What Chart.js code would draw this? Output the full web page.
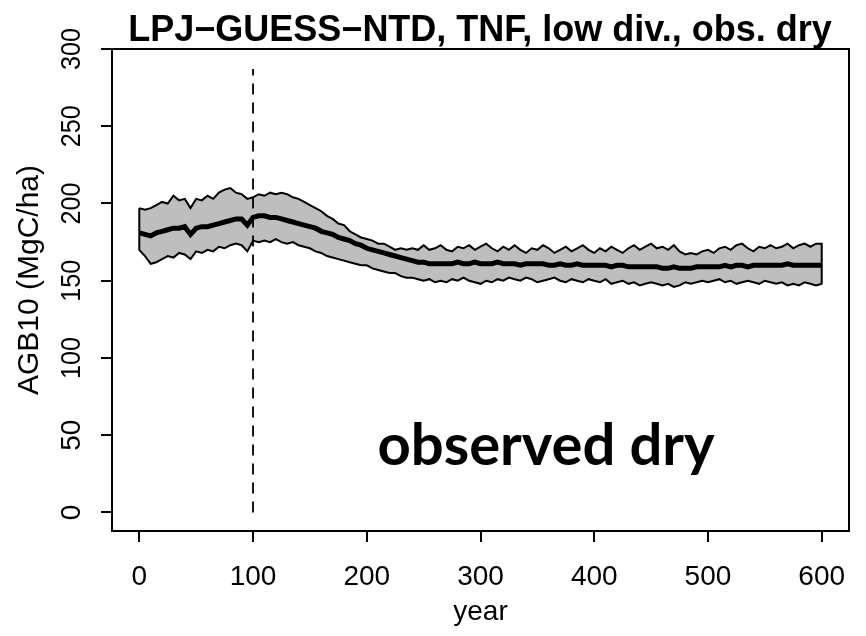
<!DOCTYPE html>
<html lang="en">
<head>
  <meta charset="UTF-8">
  <title>AGB10 - observed dry</title>
  <style>
    body { margin: 0; background: #fff; }
    #wrap { width: 866px; height: 636px; }
  </style>
</head>
<body>
  <div id="wrap"><canvas id="chart" width="866" height="636"></canvas></div>

  <script src="https://cdn.jsdelivr.net/npm/chart.js"></script>
  <script>
    // one value every 5 years, year 0 .. 600
    const yearStep = 5;

    const upper = [
      197, 196, 197, 199, 201, 200, 205, 202, 203, 197,
      203, 202, 205, 203, 207, 209, 210, 207, 206, 203,
      204, 206, 205, 207, 206, 207, 206, 204, 203, 201,
      199, 197, 195, 192, 190, 187, 186, 182, 180, 178,
      177, 176, 174, 174, 172, 170, 171, 170, 171, 170,
      173, 170, 171, 173, 170, 169, 172, 171, 173, 170,
      172, 174, 171, 169, 172, 170, 173, 170, 168, 171,
      170, 173, 171, 168, 170, 172, 169, 171, 173, 170,
      168, 171, 169, 172, 170, 168, 171, 173, 170, 172,
      174, 171, 172, 170, 173, 169, 167, 168, 167, 169,
      170, 168, 171, 172, 170, 173, 174, 171, 169, 172,
      171, 173, 171, 172, 174, 171, 173, 174, 172, 174,
      174
    ];

    const lower = [
      170, 166, 161, 162, 164, 166, 165, 168, 167, 164,
      169, 168, 170, 169, 172, 171, 173, 174, 173, 169,
      176, 175, 176, 175, 177, 175, 174, 175, 173, 172,
      171, 169, 168, 166, 165, 164, 163, 162, 161, 160,
      160, 158, 157, 156, 155, 155, 153, 152, 152, 151,
      150, 151, 149, 150, 149, 151, 150, 152, 150, 149,
      148, 150, 149, 151, 150, 152, 151, 150, 152, 151,
      149, 150, 151, 152, 150, 149, 151, 150, 149, 151,
      150, 149, 151, 148, 149, 150, 148, 149, 147, 148,
      149, 148, 147, 148, 146, 147, 149, 148, 149, 150,
      149, 150, 151, 149, 150, 148, 149, 150, 149, 148,
      150, 149, 148, 149, 147, 148, 147, 149, 148, 147,
      148
    ];

    const mean = [
      181, 180, 179, 181, 182, 183, 184, 184, 185, 180,
      184, 185, 185, 186, 187, 188, 189, 190, 190, 186,
      191, 192, 192, 191, 191, 190, 189, 188, 187, 186,
      185, 184, 182, 181, 180, 178, 177, 176, 174, 173,
      171, 170, 169, 168, 167, 166, 165, 164, 163, 162,
      162, 161, 161, 161, 161, 161, 162, 161, 161, 162,
      161, 161, 161, 162, 161, 161, 161, 160, 161, 161,
      161, 161, 160, 160, 161, 160, 160, 161, 160, 160,
      160, 160, 160, 159, 160, 160, 159, 159, 159, 159,
      159, 159, 158, 158, 159, 158, 158, 158, 159, 159,
      159, 159, 159, 160, 159, 160, 160, 159, 160, 160,
      160, 160, 160, 160, 161, 160, 160, 160, 160, 160,
      160
    ];

    const years = mean.map((_, i) => i * yearStep);

    const xTicks = [0, 100, 200, 300, 400, 500, 600];
    const yTicks = [0, 50, 100, 150, 200, 250, 300];

    // dashed marker at year 100
    const markerYear = 100;
    const markerRange = [0, 287];

    const titleText = "LPJ\u2212GUESS\u2212NTD, TNF, low div., obs. dry";
    const xTitle = "year";
    const yTitle = "AGB10 (MgC/ha)";
    const noteText = "observed dry";

    const toPoints = arr => arr.map((v, i) => ({ x: years[i], y: v }));

    // closed outline: upper left->right, then lower right->left (like R's polygon)
    const bandPoints = toPoints(upper)
      .concat(toPoints(lower).reverse())
      .concat([{ x: years[0], y: upper[0] }]);

    // box, tick marks and labels drawn R-style
    const rAxes = {
      id: "rAxes",
      afterDraw(chart) {
        const { ctx, chartArea: a, scales: { x, y } } = chart;
        ctx.save();
        ctx.strokeStyle = "#000";
        ctx.lineWidth = 2;
        ctx.strokeRect(a.left, a.top, a.right - a.left, a.bottom - a.top);

        ctx.beginPath();
        xTicks.forEach(v => {
          const px = Math.round(x.getPixelForValue(v));
          ctx.moveTo(px, a.bottom);
          ctx.lineTo(px, a.bottom + 11);
        });
        yTicks.forEach(v => {
          const py = Math.round(y.getPixelForValue(v));
          ctx.moveTo(a.left, py);
          ctx.lineTo(a.left - 11, py);
        });
        ctx.stroke();

        ctx.fillStyle = "#000";
        ctx.textAlign = "center";
        ctx.textBaseline = "alphabetic";
        ctx.font = "28px 'Liberation Sans', Arial, sans-serif";
        xTicks.forEach(v => ctx.fillText(String(v), x.getPixelForValue(v), 585));
        ctx.fillText(xTitle, (a.left + a.right) / 2, 620);

        yTicks.forEach(v => {
          ctx.save();
          ctx.translate(80, y.getPixelForValue(v));
          ctx.rotate(-Math.PI / 2);
          ctx.fillText(String(v), 0, 0, 42);
          ctx.restore();
        });

        ctx.save();
        ctx.font = "30px 'Liberation Sans', Arial, sans-serif";
        ctx.translate(38, 280);
        ctx.rotate(-Math.PI / 2);
        ctx.fillText(yTitle, 0, 0);
        ctx.restore();

        ctx.font = "bold 36px 'Liberation Sans', Arial, sans-serif";
        ctx.fillText(titleText, 480, 41, 706);

        ctx.font = "bold 58px Lato, 'Open Sans', sans-serif";
        ctx.fillText(noteText, 546, 465, 343);
        ctx.restore();
      }
    };

    const ctx = document.getElementById("chart").getContext("2d");

    // datasets are painted last-to-first, so the marker ends up on top
    new Chart(ctx, {
      type: "line",
      data: {
        datasets: [
          {
            label: "marker",
            data: markerRange.map(v => ({ x: markerYear, y: v })),
            borderColor: "#000",
            borderWidth: 1.8,
            borderDash: [11, 8],
            fill: false,
            pointRadius: 0
          },
          {
            label: "mean",
            data: toPoints(mean),
            borderColor: "#000",
            borderWidth: 5,
            fill: false,
            pointRadius: 0,
            tension: 0
          },
          {
            label: "range",
            data: bandPoints,
            borderColor: "#000",
            borderWidth: 2,
            backgroundColor: "#bebebe",
            fill: "shape",
            pointRadius: 0,
            tension: 0
          }
        ]
      },
      options: {
        responsive: false,
        animation: false,
        layout: { padding: { left: 112, right: 17, top: 49, bottom: 105 } },
        plugins: {
          legend: { display: false },
          tooltip: { enabled: false },
          filler: { drawTime: "beforeDatasetsDraw" }
        },
        scales: {
          x: { type: "linear", min: -24, max: 624, display: false },
          y: { type: "linear", min: -12, max: 300, display: false }
        }
      },
      plugins: [rAxes]
    });
  </script>
</body>
</html>
